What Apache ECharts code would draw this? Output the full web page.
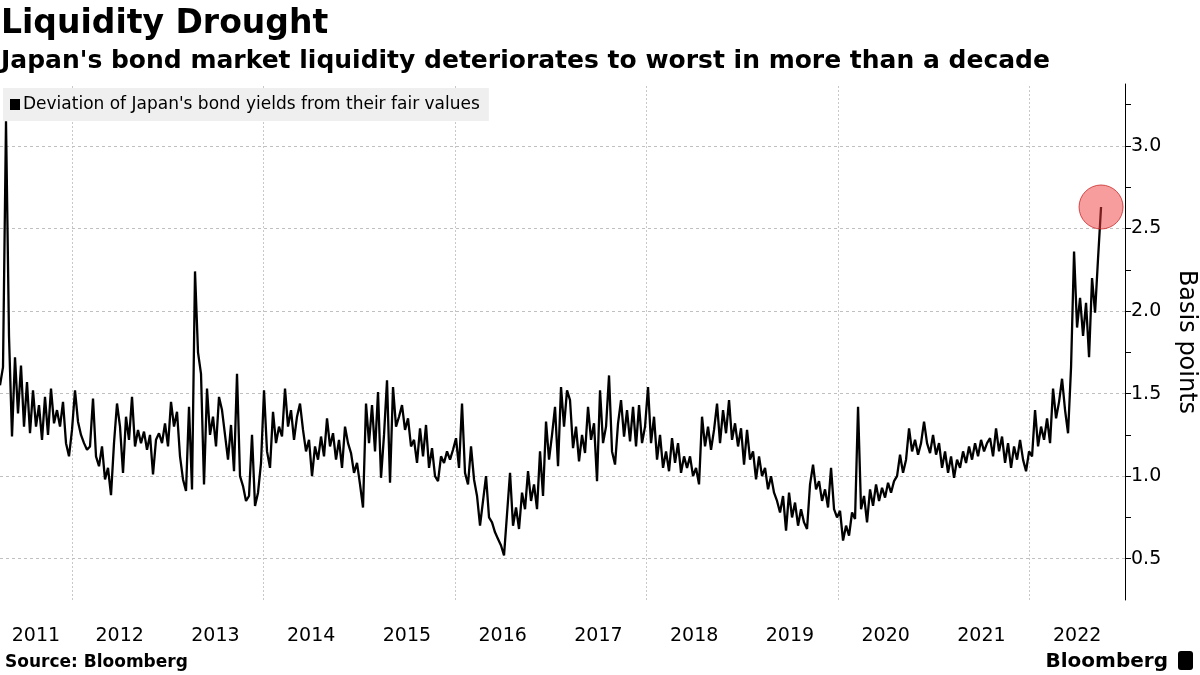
<!DOCTYPE html>
<html>
<head>
<meta charset="utf-8">
<script src="https://cdn.jsdelivr.net/npm/echarts@6/dist/echarts.min.js"></script>
<style>
  html, body { margin: 0; padding: 0; background: #fff; }
  #chart { width: 1200px; height: 675px; }
</style>
</head>
<body>
<div id="chart"></div>
<script>
// ---- Data ----
const seriesName = "Deviation of Japan's bond yields from their fair values";
const startYear = 2011.25;          // first observation (approx. April 2011)
const stepYears = 3 / 95.74;        // spacing between sampled observations (~11 days)

const values2011to2013 = [
  1.55, 1.66, 3.15, 1.85, 1.24, 1.72, 1.38, 1.67, 1.30, 1.57,
  1.26, 1.52, 1.30, 1.43, 1.22, 1.48, 1.25, 1.53, 1.32, 1.40,
  1.30, 1.45, 1.20, 1.12, 1.28, 1.52, 1.33, 1.25, 1.20, 1.16,
  1.18, 1.47, 1.12, 1.06, 1.18, 0.98, 1.05, 0.885, 1.20, 1.44,
  1.30, 1.02, 1.36, 1.22, 1.48, 1.18, 1.28, 1.20, 1.27, 1.16,
  1.25, 1.01, 1.22, 1.26, 1.20, 1.32, 1.18, 1.45, 1.30, 1.39,
  1.12, 0.98, 0.91, 1.42, 0.92, 2.24, 1.75, 1.62, 0.95, 1.53,
  1.25, 1.36, 1.18, 1.48, 1.40, 1.25, 1.10, 1.31, 1.03, 1.62,
  1.00, 0.94, 0.85, 0.88, 1.25, 0.82, 0.90, 1.08, 1.52, 1.15
];
const values2014to2016 = [
  1.05, 1.39, 1.20, 1.30, 1.24, 1.53, 1.30, 1.40, 1.22, 1.36,
  1.44, 1.28, 1.15, 1.22, 1.00, 1.18, 1.10, 1.24, 1.12, 1.35,
  1.18, 1.26, 1.10, 1.22, 1.05, 1.30, 1.20, 1.14, 1.02, 1.08,
  0.95, 0.81, 1.44, 1.20, 1.43, 1.15, 1.51, 0.99, 1.25, 1.58,
  0.96, 1.54, 1.30, 1.36, 1.43, 1.28, 1.35, 1.18, 1.22, 1.08,
  1.29, 1.12, 1.31, 1.05, 1.17, 1.00, 0.97, 1.12, 1.08, 1.15,
  1.10, 1.16, 1.23, 1.05, 1.44, 1.02, 0.95, 1.18, 0.98, 0.88,
  0.70, 0.85, 1.00, 0.75, 0.72, 0.66, 0.62, 0.58, 0.52, 0.77,
  1.02, 0.70, 0.81, 0.68, 0.90, 0.80, 1.03, 0.85, 0.95, 0.80
];
const values2017to2019 = [
  1.15, 0.88, 1.33, 1.10, 1.25, 1.42, 1.06, 1.54, 1.30, 1.52,
  1.46, 1.17, 1.30, 1.09, 1.25, 1.14, 1.42, 1.22, 1.32, 0.97,
  1.52, 1.20, 1.30, 1.61, 1.15, 1.07, 1.32, 1.46, 1.24, 1.40,
  1.21, 1.42, 1.18, 1.43, 1.20, 1.30, 1.54, 1.20, 1.36, 1.10,
  1.25, 1.05, 1.15, 1.03, 1.23, 1.08, 1.20, 1.02, 1.12, 1.05,
  1.12, 1.00, 1.05, 0.95, 1.36, 1.18, 1.30, 1.16, 1.28, 1.44,
  1.20, 1.40, 1.26, 1.46, 1.22, 1.32, 1.18, 1.29, 1.07, 1.28,
  1.10, 1.15, 0.98, 1.12, 1.00, 1.05, 0.92, 1.00, 0.90, 0.85,
  0.78, 0.88, 0.67, 0.90, 0.75, 0.84, 0.70, 0.80, 0.72, 0.68
];
const values2020to2022 = [
  0.95, 1.07, 0.92, 0.97, 0.85, 0.92, 0.81, 1.05, 0.80, 0.75,
  0.79, 0.61, 0.70, 0.64, 0.78, 0.74, 1.42, 0.80, 0.88, 0.72,
  0.92, 0.82, 0.95, 0.85, 0.93, 0.87, 0.96, 0.90, 0.97, 1.00,
  1.13, 1.02, 1.10, 1.29, 1.15, 1.22, 1.13, 1.20, 1.33, 1.20,
  1.14, 1.25, 1.13, 1.20, 1.05, 1.15, 1.02, 1.12, 0.99, 1.10,
  1.05, 1.15, 1.08, 1.18, 1.10, 1.20, 1.12, 1.22, 1.15, 1.20,
  1.23, 1.12, 1.29, 1.15, 1.24, 1.08, 1.20, 1.05, 1.18, 1.10,
  1.22, 1.10, 1.03, 1.15, 1.12, 1.40, 1.18, 1.30, 1.22, 1.35,
  1.20, 1.53, 1.35, 1.45, 1.59, 1.40, 1.26, 1.66, 2.36, 1.90,
  2.08, 1.85, 2.05, 1.72, 2.20, 1.99, 2.32, 2.63
];

const yearLabels = [2011, 2012, 2013, 2014, 2015, 2016, 2017, 2018, 2019, 2020, 2021, 2022];
const verticalGridYears = [2012, 2014, 2016, 2018, 2020, 2022];
const yTickValues = [0.5, 0.75, 1.0, 1.25, 1.5, 1.75, 2.0, 2.25, 2.5, 2.75, 3.0, 3.25];
const yLabelValues = [0.5, 1.0, 1.5, 2.0, 2.5, 3.0];

// ---- Build ----
const allValues = [].concat(values2011to2013, values2014to2016, values2017to2019, values2020to2022);
const seriesData = allValues.map((v, i) => [startYear + i * stepYears, v]);
const xMin = startYear, xMax = 2023.0;
const yMin = 0.25, yMax = 3.375;
const yearLabelPos = yearLabels.map(y => (Math.max(y, xMin) + Math.min(y + 1, xMax)) / 2);
const lastPoint = seriesData[seriesData.length - 1];

const FONT = 'DejaVu Sans';
const chart = echarts.init(document.getElementById('chart'), null, { renderer: 'canvas' });

chart.setOption({
  animation: false,
  backgroundColor: '#ffffff',
  title: {
    text: 'Liquidity Drought',
    subtext: "Japan's bond market liquidity deteriorates to worst in more than a decade",
    left: 0, top: 8, itemGap: 8, padding: [0, 0, 0, 1],
    textStyle: { fontFamily: FONT, fontWeight: 'bold', fontSize: 33, color: '#000' },
    subtextStyle: { fontFamily: FONT, fontWeight: 'bold', fontSize: 25, color: '#000' }
  },
  legend: {
    data: [seriesName],
    left: 3, top: 88,
    backgroundColor: '#efefef',
    padding: [8, 9, 8, 7],
    icon: 'rect', itemWidth: 10, itemHeight: 11, itemGap: 4,
    textStyle: { fontFamily: FONT, fontSize: 17, color: '#000', padding: [0, 0, 0, -2] },
    selectedMode: false
  },
  grid: { left: 0, right: 75, top: 84, bottom: 75, containLabel: false, outerBoundsMode: 'none' },
  xAxis: {
    type: 'value', min: xMin, max: xMax,
    axisLine: { show: false }, axisTick: { show: false }, splitLine: { show: false },
    axisLabel: {
      customValues: yearLabelPos,
      formatter: v => String(Math.floor(v)),
      fontFamily: FONT, fontSize: 19, color: '#000', margin: 27
    }
  },
  yAxis: {
    type: 'value', position: 'right', min: yMin, max: yMax,
    name: 'Basis points', nameLocation: 'middle', nameRotate: -90, nameGap: 49,
    nameTextStyle: { fontFamily: FONT, fontSize: 24, color: '#000' },
    axisLine: { show: true, lineStyle: { color: '#000', width: 1 } },
    axisTick: { show: true, inside: false, length: 6, customValues: yTickValues, lineStyle: { color: '#000' } },
    axisLabel: {
      customValues: yLabelValues,
      formatter: v => v.toFixed(1),
      fontFamily: FONT, fontSize: 19, color: '#000', margin: 6
    },
    splitLine: { show: false }
  },
  series: [
    {
      name: seriesName, type: 'line', data: seriesData,
      showSymbol: false, symbol: 'none', z: 3,
      itemStyle: { color: '#000' },
      lineStyle: { color: '#000', width: 2.3, join: 'bevel' },
      markLine: {
        silent: true, symbol: ['none', 'none'], z: 1,
        label: { show: false },
        data: verticalGridYears.map(y => ({ xAxis: y, lineStyle: { color: '#c8c8c8', type: [2, 2], width: 1 } }))
          .concat(yLabelValues.map(v => ({ yAxis: v, lineStyle: { color: '#c0c0c0', type: [3, 3], width: 1 } })))
      },
      markPoint: {
        silent: true, symbol: 'circle', symbolSize: 44, z: 6,
        label: { show: false },
        itemStyle: { color: 'rgba(240, 60, 60, 0.5)', borderColor: 'rgba(200, 40, 40, 0.8)', borderWidth: 1 },
        data: [{ coord: lastPoint }]
      }
    }
  ],
  graphic: [
    { type: 'text', left: 5, top: 654, style: { text: 'Source: Bloomberg', font: 'bold 17px "DejaVu Sans"', fill: '#000' } },
    { type: 'text', right: 32, top: 652, style: { text: 'Bloomberg', font: 'bold 20px "DejaVu Sans"', fill: '#000' } },
    { type: 'rect', right: 7, top: 651, shape: { width: 15, height: 19, r: 3 }, style: { fill: '#000' } }
  ]
});
</script>
</body>
</html>
